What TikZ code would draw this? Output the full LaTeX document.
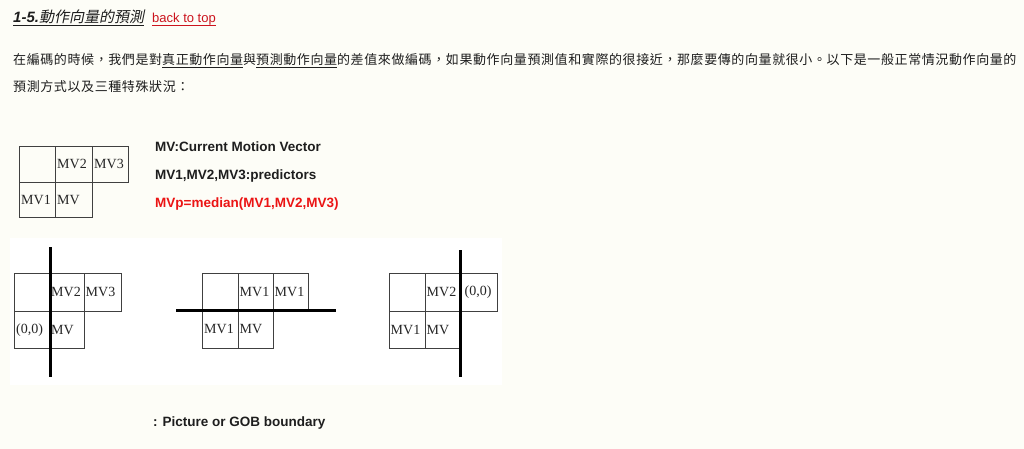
\documentclass[tikz,border=0pt]{standalone}
\usepackage{fontspec}
\setmainfont{Liberation Serif}
\newfontfamily\arial{Liberation Sans}
\newfontfamily\cjk[LetterSpace=4.6]{Noto Sans CJK TC}
\newfontfamily\cjkslant[FakeSlant=0.2]{Noto Sans CJK TC}
\definecolor{bgc}{RGB}{253,253,247}
\definecolor{linkred}{RGB}{204,20,30}
\definecolor{mvred}{RGB}{235,20,20}
\definecolor{txt}{RGB}{30,30,30}
\begin{document}
\begin{tikzpicture}[x=1pt,y=-1pt,
  cell/.style={draw=black!75, line width=0.9pt, anchor=north west, inner sep=0pt},
  lbl/.style={anchor=west, inner sep=0pt, text=black!85, font=\fontsize{14}{16}\selectfont},
  wall/.style={line width=3pt, black},
  note/.style={anchor=base west, inner sep=0pt, text=txt, font=\arial\bfseries\fontsize{13.5}{16}\selectfont},
  para/.style={anchor=base west, inner sep=0pt, text=txt, font=\cjk\fontsize{13}{16}\selectfont}]
\useasboundingbox (0,0) rectangle (1024,449);
\fill[bgc] (0,0) rectangle (1024,449);
\fill[white] (10,238) rectangle (502,385);

% title
\node[anchor=base west, inner sep=0pt, text=txt, font=\fontsize{15}{18}\selectfont] (title) at (13,23) {{\arial\bfseries\itshape 1-5.}{\cjkslant 動作向量的預測}};
\draw[txt, line width=1.1pt] ([yshift=-2.2pt]title.base west) -- ([yshift=-2.2pt]title.base east);
\node[anchor=base west, inner sep=0pt, text=linkred, font=\arial\fontsize{13}{16}\selectfont] (back) at (152,23) {back to top};
\draw[linkred, line width=0.9pt] ([yshift=-2pt]back.base west) -- ([yshift=-2pt]back.base east);

% paragraph
\node[para] (p1) at (13,65) {在編碼的時候，我們是對\underline{真正動作向量}與\underline{預測動作向量}的差值來做編碼，如果動作向量預測值和實際的很接近，那麼要傳的向量就很小。以下是一般正常情況動作向量的};
\node[para] (p2) at (13,92) {預測方式以及三種特殊狀況：};

% top diagram
\node[cell, minimum width=36, minimum height=36] (a11) at (19,146) {};
\node[cell, minimum width=37, minimum height=36] (a12) at (55,146) {};
\node[cell, minimum width=36, minimum height=36] (a13) at (92,146) {};
\node[cell, minimum width=36, minimum height=35] (a21) at (19,182) {};
\node[cell, minimum width=37, minimum height=35] (a22) at (55,182) {};
\node[lbl] (la12) at ([xshift=2pt]a12.west) {MV2};
\node[lbl] (la13) at ([xshift=2pt]a13.west) {MV3};
\node[lbl] (la21) at ([xshift=2pt]a21.west) {MV1};
\node[lbl] (la22) at ([xshift=2pt]a22.west) {MV};

\node[note] (n1) at (155,151.5) {MV:Current Motion Vector};
\node[note] (n2) at (155,179.5) {MV1,MV2,MV3:predictors};
\node[note, text=mvred] (n3) at (155,207.5) {MVp=median(MV1,MV2,MV3)};

% case 1
\node[cell, minimum width=36, minimum height=38] (b11) at (14,273) {};
\node[cell, minimum width=34, minimum height=38] (b12) at (50,273) {};
\node[cell, minimum width=37, minimum height=38] (b13) at (84,273) {};
\node[cell, minimum width=36, minimum height=37] (b21) at (14,311) {};
\node[cell, minimum width=34, minimum height=37] (b22) at (50,311) {};
\node[lbl] (lb12) at ([xshift=1pt]b12.west) {MV2};
\node[lbl] (lb13) at ([xshift=1.5pt]b13.west) {MV3};
\node[lbl] (lb21) at ([xshift=2pt]b21.west) {(0,0)};
\node[lbl] (lb22) at ([xshift=1pt]b22.west) {MV};
\coordinate (w1a) at (50,247);
\coordinate (w1b) at (50,377);
\draw[wall] (w1a) -- (w1b);

% case 2
\node[cell, minimum width=36, minimum height=37] (c11) at (202,273) {};
\node[cell, minimum width=35, minimum height=37] (c12) at (238,273) {};
\node[cell, minimum width=35, minimum height=37] (c13) at (273,273) {};
\node[cell, minimum width=36, minimum height=38] (c21) at (202,310) {};
\node[cell, minimum width=35, minimum height=38] (c22) at (238,310) {};
\node[lbl] (lc12) at ([xshift=1.5pt]c12.west) {MV1};
\node[lbl] (lc13) at ([xshift=1.5pt]c13.west) {MV1};
\node[lbl] (lc21) at ([xshift=2pt]c21.west) {MV1};
\node[lbl] (lc22) at ([xshift=1.5pt]c22.west) {MV};
\coordinate (w2a) at (176,310);
\coordinate (w2b) at (336,310);
\draw[wall] (w2a) -- (w2b);

% case 3
\node[cell, minimum width=36, minimum height=38] (d11) at (389,273) {};
\node[cell, minimum width=35, minimum height=38] (d12) at (425,273) {};
\node[cell, minimum width=37, minimum height=38] (d13) at (460,273) {};
\node[cell, minimum width=36, minimum height=37] (d21) at (389,311) {};
\node[cell, minimum width=35, minimum height=37] (d22) at (425,311) {};
\node[lbl] (ld12) at ([xshift=1.5pt]d12.west) {MV2};
\node[lbl] (ld13) at ([xshift=4.5pt]d13.west) {(0,0)};
\node[lbl] (ld21) at ([xshift=1.5pt]d21.west) {MV1};
\node[lbl] (ld22) at ([xshift=1.5pt]d22.west) {MV};
\coordinate (w3a) at (460,250);
\coordinate (w3b) at (460,377);
\draw[wall] (w3a) -- (w3b);

% caption
\node[note] (cap) at (153,426) {: Picture or GOB boundary};
\end{tikzpicture}
\end{document}
